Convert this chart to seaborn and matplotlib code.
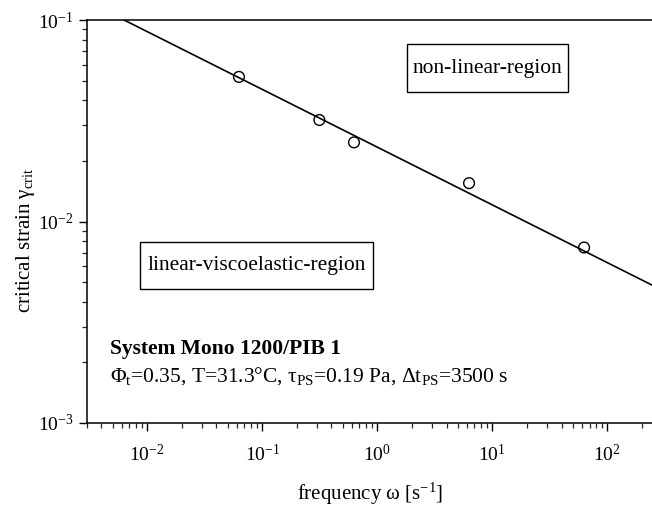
import matplotlib
matplotlib.use("Agg")
import matplotlib.pyplot as plt
import matplotlib.ticker as mticker
from matplotlib.patches import Rectangle
import seaborn as sns
import pandas as pd
import numpy as np

# ---- data ----
omega = [0.0628, 0.314, 0.628, 6.28, 62.8]              # frequency [1/s]
gamma_crit = [0.0522, 0.0319, 0.0247, 0.0155, 0.00743]  # critical strain
fit_omega = [0.0063, 251.0]      # fitted power-law line end points
fit_gamma = [0.1, 0.0048]

x_limits = [0.003, 251.0]
y_limits = [1e-3, 1e-1]

sns.set_theme(style="ticks")
plt.rcParams['font.family'] = ['Liberation Serif', 'DejaVu Serif']
plt.rcParams['mathtext.fontset'] = 'custom'
plt.rcParams['mathtext.rm'] = 'Liberation Serif'
plt.rcParams['mathtext.it'] = 'Liberation Serif:italic'
plt.rcParams['mathtext.bf'] = 'Liberation Serif:bold'
plt.rcParams['mathtext.default'] = 'regular'
plt.rcParams['axes.unicode_minus'] = False

W, H = 652, 509
fig = plt.figure(figsize=(W/100, H/100), dpi=100)
ax = fig.add_axes([87/W, 1-423/H, (W-87)/W + 0.002, (423-20)/H])

pts = pd.DataFrame({"omega": omega, "gamma": gamma_crit})
fit = pd.DataFrame({"omega": fit_omega, "gamma": fit_gamma})

sns.lineplot(data=fit, x="omega", y="gamma", color="black", lw=1.2, ax=ax)
sns.scatterplot(data=pts, x="omega", y="gamma", ax=ax, s=60, marker="o",
                facecolors="none", edgecolor="black", linewidth=1.0, zorder=3)

ax.set_xscale("log")
ax.set_yscale("log")
ax.set_xlim(*x_limits)
ax.set_ylim(*y_limits)

ax.xaxis.set_major_locator(mticker.LogLocator(base=10, numticks=20))
ax.xaxis.set_minor_locator(mticker.LogLocator(base=10, subs=np.arange(2, 10), numticks=20))
ax.yaxis.set_major_locator(mticker.LogLocator(base=10, numticks=20))
ax.yaxis.set_minor_locator(mticker.LogLocator(base=10, subs=np.arange(2, 10), numticks=20))
ax.xaxis.set_major_formatter(mticker.LogFormatterMathtext())
ax.yaxis.set_major_formatter(mticker.LogFormatterMathtext())
ax.yaxis.set_minor_formatter(mticker.NullFormatter())
ax.xaxis.set_minor_formatter(mticker.NullFormatter())

for s in ["left", "bottom", "top"]:
    ax.spines[s].set_linewidth(1.1)
    ax.spines[s].set_color("black")
ax.spines["right"].set_visible(False)

ax.tick_params(axis="both", which="major", direction="out", length=6, width=1.0,
               labelsize=14, colors="black")
ax.tick_params(axis="both", which="minor", direction="out", length=3.5, width=0.9)
ax.tick_params(axis="x", which="major", pad=9)
ax.tick_params(axis="y", which="major", pad=4)

ax.set_xlabel(r"frequency $\omega$ [s$^{-1}$]", fontsize=15, color="black")
ax.xaxis.label.set_va("center")
ax.xaxis.set_label_coords(0.5, (423-494)/403)
ax.set_ylabel(r"critical strain $\gamma_{\rm crit}$", fontsize=15, color="black")
ax.yaxis.set_label_coords((37-87)/565, (423-240)/403)

# boxed region labels
for (x0, y0, x1, y1, label) in [(407, 44, 568, 92, "non-linear-region"),
                                (140, 242, 373, 289, "linear-viscoelastic-region")]:
    fig.patches.append(Rectangle((x0/W, 1-y1/H), (x1-x0)/W, (y1-y0)/H,
                                 transform=fig.transFigure, facecolor="white",
                                 edgecolor="black", linewidth=1.0, zorder=5))
    fig.text((x0+x1)/2/W, 1-(y0+y1)/2/H, label, ha="center", va="center",
             fontsize=15.5, color="black", zorder=6)

fig.text(110/W, 1-349/H, "System Mono 1200/PIB 1",
         ha="left", va="center", fontsize=15.5, fontweight="bold", color="black")
fig.text(110/W, 1-376/H,
         r"$\Phi_{\rm t}$=0.35, T=31.3°C, $\tau_{\rm PS}$=0.19 Pa, $\Delta$t$_{\rm PS}$=3500 s",
         ha="left", va="center", fontsize=15.5, color="black")

fig.savefig("out.png", dpi=100)
